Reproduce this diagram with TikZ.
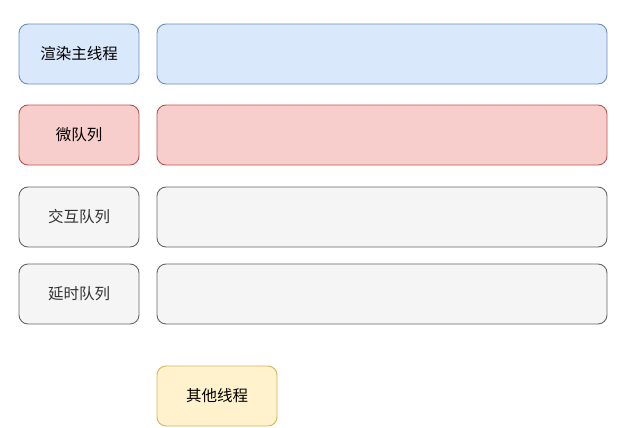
\documentclass[tikz,border=0pt]{standalone}
\usepackage{fontspec}
\newfontfamily\cjk{Noto Sans CJK SC}
\definecolor{bluef}{HTML}{DAE8FC}\definecolor{blued}{HTML}{6C8EBF}
\definecolor{redf}{HTML}{F8CECC}\definecolor{redd}{HTML}{B85450}
\definecolor{grayf}{HTML}{F5F5F5}\definecolor{grayd}{HTML}{666666}\definecolor{grayt}{HTML}{333333}
\definecolor{yelf}{HTML}{FFF2CC}\definecolor{yeld}{HTML}{D6B656}
\begin{document}
\begin{tikzpicture}[x=1pt,y=-1pt,
  box/.style={rounded corners=9pt,line width=0.9pt,inner sep=0pt,font=\cjk\fontsize{15.5}{18}\selectfont},
  bluebox/.style={box,fill=bluef,draw=blued,text=black},
  redbox/.style={box,fill=redf,draw=redd,text=black},
  graybox/.style={box,fill=grayf,draw=grayd,text=grayt},
  yelbox/.style={box,fill=yelf,draw=yeld,text=black},
  small/.style={minimum width=120pt,minimum height=60pt},
  wide/.style={minimum width=450pt,minimum height=60pt}]
\useasboundingbox (0,0) rectangle (637,428);
\node[bluebox,small] (l1) at (79,54) {渲染主线程};
\node[bluebox,wide] (r1) at (382,54) {};
\node[redbox,small] (l2) at (79,135) {微队列};
\node[redbox,wide] (r2) at (382,135) {};
\node[graybox,small] (l3) at (79,217) {交互队列};
\node[graybox,wide] (r3) at (382,217) {};
\node[graybox,small] (l4) at (79,294) {延时队列};
\node[graybox,wide] (r4) at (382,294) {};
\node[yelbox,small] (o) at (217,396) {其他线程};
\end{tikzpicture}
\end{document}
